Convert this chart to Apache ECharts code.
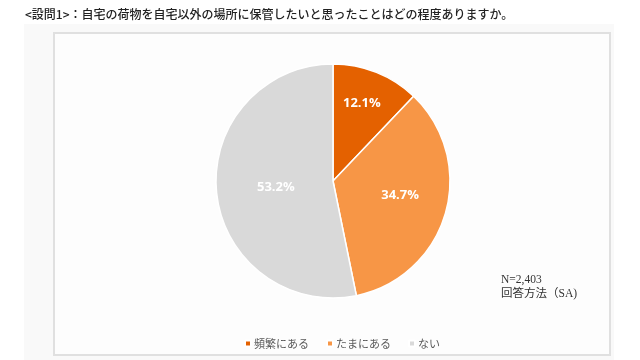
<!DOCTYPE html>
<html>
<head>
<meta charset="utf-8">
<script src="https://cdn.jsdelivr.net/npm/echarts@6/dist/echarts.min.js"></script>
<style>
html,body{margin:0;padding:0;background:#fff;}
#chart{width:640px;height:360px;}
</style>
</head>
<body>
<div id="chart"></div>
<script>
// Data
const categories = ['頻繁にある', 'たまにある', 'ない'];
const values = [12.1, 34.7, 53.2];
const colors = ['#E46100', '#F79646', '#D9D9D9'];
const titleText = '<設問1>：自宅の荷物を自宅以外の場所に保管したいと思ったことはどの程度ありますか。';
const noteLines = ['N=2,403', '回答方法（SA)'];

const chart = echarts.init(document.getElementById('chart'), null, {renderer: 'canvas'});
const labelShift = [[6, -21], [8, -3], [4, 0]];

chart.setOption({
  backgroundColor: '#ffffff',
  animation: false,
  graphic: [
    {type: 'rect', z: -10, shape: {x: 24, y: 24, width: 590, height: 336}, style: {fill: '#f9f9f9'}},
    {type: 'rect', z: -9, shape: {x: 54, y: 33, width: 556, height: 322}, style: {fill: '#fdfdfd', stroke: '#e0e0e0', lineWidth: 2}},
    {type: 'text', left: 501, top: 273, style: {text: noteLines.join('\n'), fill: '#333', font: '11.5px "Liberation Serif", "Noto Sans CJK JP"', lineHeight: 14}}
  ],
  title: {
    text: titleText,
    left: 20,
    top: 3,
    textStyle: {fontFamily: '"Noto Sans CJK JP"', fontSize: 12, fontWeight: 500, color: '#222'}
  },
  legend: {
    data: categories,
    top: 333,
    left: 239,
    icon: 'rect',
    itemWidth: 6,
    itemHeight: 6,
    itemGap: 17,
    textStyle: {fontFamily: '"Noto Sans CJK JP"', fontSize: 11, color: '#595959', padding: [0, 0, 0, -2]}
  },
  series: [{
    type: 'pie',
    center: [333, 181],
    radius: [0, 117],
    startAngle: 90,
    clockwise: true,
    color: colors,
    itemStyle: {borderColor: '#ffffff', borderWidth: 1.5},
    label: {
      show: true,
      position: 'inside',
      formatter: p => p.value.toFixed(1) + '%',
      color: '#ffffff',
      fontFamily: '"Open Sans", sans-serif',
      fontWeight: 'bold',
      fontSize: 13
    },
    labelLine: {show: false},
    labelLayout: p => ({dx: labelShift[p.dataIndex][0], dy: labelShift[p.dataIndex][1]}),
    data: categories.map((c, i) => ({name: c, value: values[i]}))
  }]
});
</script>
</body>
</html>
